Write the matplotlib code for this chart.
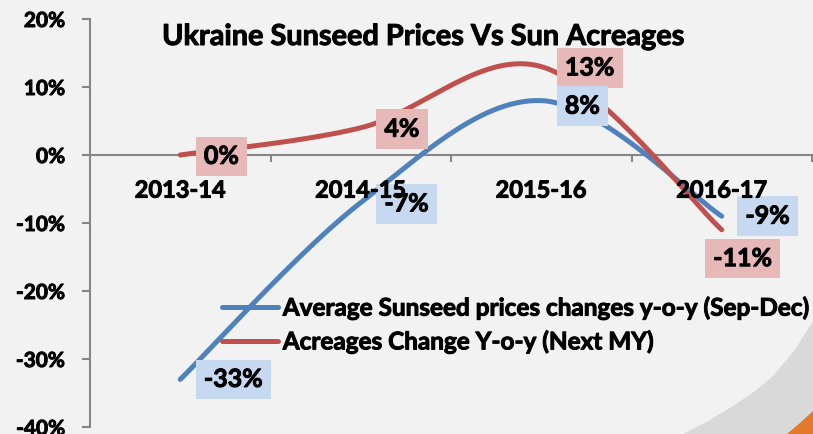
import numpy as np
import matplotlib
matplotlib.use("Agg")
import matplotlib.pyplot as plt
import matplotlib.patheffects as pe
from matplotlib.patches import Polygon
from matplotlib.lines import Line2D
from matplotlib.text import Text

# 数据
seasons = ["2013-14", "2014-15", "2015-16", "2016-17"]
price_change = [-33, -7, 8, -9]      # Average Sunseed prices changes y-o-y (Sep-Dec)
acreage_change = [0, 4, 13, -11]     # Acreages Change Y-o-y (Next MY)
price_labels = ["-33%", "-7%", "8%", "-9%"]
acreage_labels = ["0%", "4%", "13%", "-11%"]
y_ticks = [-40, -30, -20, -10, 0, 10, 20]

BLUE = "#4F81BD"
RED = "#C0504D"
BLUE_BOX = "#C6D9F1"
RED_BOX = "#E6B9B8"
GREY = "#868686"
BG = "#F2F2F2"

plt.rcParams["font.family"] = ["Lato", "DejaVu Sans"]
plt.rcParams["font.weight"] = "bold"


def smooth(xs, ys, n=60):
    # Excel 风格的平滑曲线 (Catmull-Rom -> Bezier)
    pts = np.column_stack([xs, ys]).astype(float)
    ext = np.vstack([pts[0], pts, pts[-1]])
    out = []
    for i in range(len(pts) - 1):
        p0, p1, p2, p3 = ext[i], ext[i + 1], ext[i + 2], ext[i + 3]
        c1 = p1 + (p2 - p0) / 6
        c2 = p2 - (p3 - p1) / 6
        t = np.linspace(0, 1, n)[:, None]
        seg = ((1 - t) ** 3) * p1 + 3 * ((1 - t) ** 2) * t * c1 + 3 * (1 - t) * t ** 2 * c2 + t ** 3 * p2
        out.append(seg if i == 0 else seg[1:])
    seg = np.vstack(out)
    return seg[:, 0], seg[:, 1]


fig = plt.figure(figsize=(8.13, 4.35), dpi=100)
fig.patch.set_facecolor(BG)

W, H = 813.0, 435.0


def fp(x, y):
    return (x / W, 1 - y / H)


# 右下角装饰
grey_pts = [fp(683, 435), fp(710, 421), fp(733, 407), fp(755, 392), fp(773, 377),
            fp(794, 352), fp(813, 322), fp(813, 435)]
fig.patches.append(Polygon(grey_pts, closed=True, transform=fig.transFigure,
                           facecolor="#D9D9D9", edgecolor="none", zorder=0))
orange_pts = [fp(787, 435), fp(800, 424), fp(813, 412), fp(813, 435)]
fig.patches.append(Polygon(orange_pts, closed=True, transform=fig.transFigure,
                           facecolor="#E4782B", edgecolor="none", zorder=0))

ax = fig.add_axes([90 / W, 1 - 428 / H, 722 / W, 408 / H])
ax.set_facecolor("none")

x = np.arange(len(seasons))
bx, by = smooth(x, price_change)
rx, ry = smooth(x, acreage_change)
ax.plot(bx, by, color=BLUE, lw=3.6, solid_capstyle="round", zorder=3)
ax.plot(rx, ry, color=RED, lw=3.6, solid_capstyle="round", zorder=4)

ax.set_xlim(-0.5, 3.5)
ax.set_ylim(-40, 20)
ax.set_yticks(y_ticks)
ax.set_yticklabels([f"{v}%" for v in y_ticks])
ax.set_xticks(x)
ax.set_xticklabels(seasons)
ax.set_xticks([0.5, 1.5, 2.5, 3.5], minor=True)
ax.xaxis.set_zorder(7)  # 类别标签压在数据标签上面

for s in ["top", "right"]:
    ax.spines[s].set_visible(False)
ax.spines["bottom"].set_position(("data", 0))
for s in ["left", "bottom"]:
    ax.spines[s].set_color(GREY)
    ax.spines[s].set_linewidth(1.5)

ax.tick_params(axis="y", length=6, width=1.5, color=GREY, pad=12, labelsize=15)
ax.tick_params(axis="x", which="major", length=0, pad=17, labelsize=17)
ax.tick_params(axis="x", which="minor", length=5, width=1.5, color=GREY)

# 数据标签
lab_fs = 18
box_pad = 0.33
off = 17
for i, t in enumerate(acreage_labels):
    box = dict(boxstyle=f"square,pad={box_pad}", fc=RED_BOX, ec="none")
    if i == 3:
        ax.annotate(t, (x[i], acreage_change[i]), xytext=(15, -12.5), textcoords="offset points",
                    ha="center", va="top", fontsize=lab_fs, zorder=6, bbox=box)
    else:
        ax.annotate(t, (x[i], acreage_change[i]), xytext=(off, -1), textcoords="offset points",
                    ha="left", va="center", fontsize=lab_fs, zorder=6, bbox=box)
for i, t in enumerate(price_labels):
    dy = [0, -1, -4, 0][i]
    ax.annotate(t, (x[i], price_change[i]), xytext=(off, dy), textcoords="offset points",
                ha="left", va="center", fontsize=lab_fs, zorder=6,
                bbox=dict(boxstyle=f"square,pad={box_pad}", fc=BLUE_BOX, ec="none"))

fig.text(423.5 / W, 1 - 46 / H, "Ukraine Sunseed Prices Vs Sun Acreages", ha="center",
         va="baseline", fontsize=20.8, fontweight="bold")

handles = [Line2D([], [], color=BLUE, lw=3.6, solid_capstyle="round"),
           Line2D([], [], color=RED, lw=3.6, solid_capstyle="round")]
leg = ax.legend(handles, ["Average Sunseed prices changes y-o-y (Sep-Dec)",
                          "Acreages Change Y-o-y (Next MY)"],
                loc="upper left", bbox_to_anchor=fp(222, 297), bbox_transform=fig.transFigure,
                frameon=False, borderpad=0, borderaxespad=0, handlelength=2.3,
                handletextpad=0.2, labelspacing=0.42, prop={"size": 17.5, "weight": "bold"})
leg.set_zorder(8)

# 字体加粗一点，接近 Calibri Bold
for t in fig.findobj(Text):
    t.set_path_effects([pe.withStroke(linewidth=0.7, foreground="black")])

fig.savefig("out.png", dpi=100, facecolor=BG)
